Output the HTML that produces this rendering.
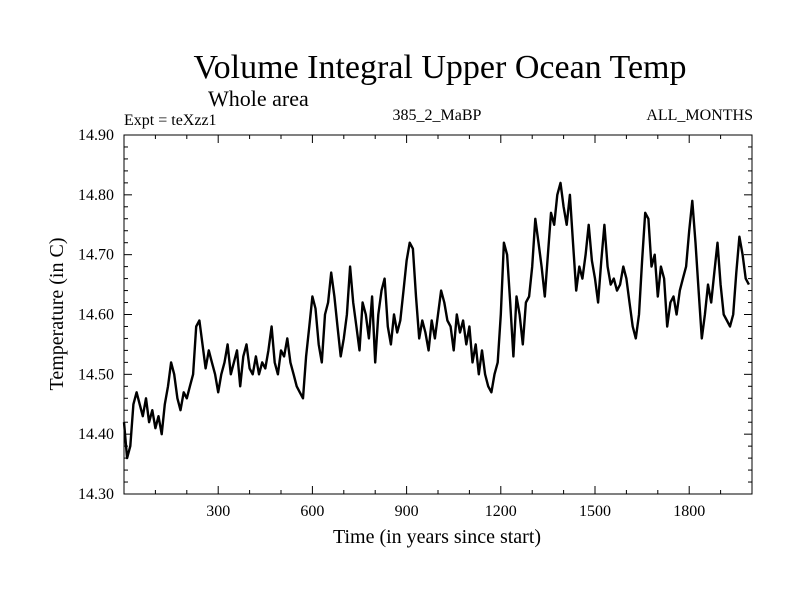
<!DOCTYPE html>
<html><head><meta charset="utf-8"><style>
body{margin:0;background:#fff}
svg text{font-family:"Liberation Serif",serif;fill:#000}
</style></head><body>
<svg id="chart" width="800" height="600">
<text x="440" y="78" font-size="34" text-anchor="middle">Volume Integral Upper Ocean Temp</text>
<text x="208" y="106" font-size="22">Whole area</text>
<text x="124" y="125" font-size="16">Expt = teXzz1</text>
<text x="437" y="120" font-size="16" text-anchor="middle">385_2_MaBP</text>
<text x="753" y="120" font-size="16" text-anchor="end">ALL_MONTHS</text>
<text x="437" y="543" font-size="20" text-anchor="middle">Time (in years since start)</text>
<text transform="translate(63,314) rotate(-90)" font-size="20" text-anchor="middle">Temperature (in C)</text>
<g id="axes"></g>
<path id="line" fill="none" stroke="#000" stroke-width="2.4" stroke-linejoin="round"></path>
<rect x="124" y="135" width="628" height="359" fill="none" stroke="#000" stroke-width="1"></rect>
</svg>
<script>
const years=[];for(let i=0;i<200;i++)years.push(i*10);
const temps=[14.42,14.36,14.38,14.45,14.47,14.45,14.43,14.46,14.42,14.44,14.41,14.43,14.40,14.45,14.48,14.52,14.50,14.46,14.44,14.47,
14.46,14.48,14.50,14.58,14.59,14.55,14.51,14.54,14.52,14.50,14.47,14.50,14.52,14.55,14.50,14.52,14.54,14.48,14.53,14.55,
14.51,14.50,14.53,14.50,14.52,14.51,14.54,14.58,14.52,14.50,14.54,14.53,14.56,14.52,14.50,14.48,14.47,14.46,14.53,14.58,
14.63,14.61,14.55,14.52,14.60,14.62,14.67,14.63,14.58,14.53,14.56,14.60,14.68,14.62,14.58,14.54,14.62,14.60,14.56,14.63,
14.52,14.60,14.64,14.66,14.58,14.55,14.60,14.57,14.59,14.64,14.69,14.72,14.71,14.63,14.56,14.59,14.57,14.54,14.59,14.56,
14.60,14.64,14.62,14.59,14.58,14.54,14.60,14.57,14.59,14.55,14.58,14.52,14.55,14.50,14.54,14.50,14.48,14.47,14.50,14.52,
14.60,14.72,14.70,14.62,14.53,14.63,14.60,14.55,14.62,14.63,14.68,14.76,14.72,14.68,14.63,14.70,14.77,14.75,14.80,14.82,
14.78,14.75,14.80,14.72,14.64,14.68,14.66,14.70,14.75,14.69,14.66,14.62,14.69,14.75,14.68,14.65,14.66,14.64,14.65,14.68,
14.66,14.62,14.58,14.56,14.60,14.69,14.77,14.76,14.68,14.70,14.63,14.68,14.66,14.58,14.62,14.63,14.60,14.64,14.66,14.68,
14.74,14.79,14.72,14.64,14.56,14.60,14.65,14.62,14.67,14.72,14.65,14.60,14.59,14.58,14.60,14.67,14.73,14.70,14.66,14.65];
const xTicks=[300,600,900,1200,1500,1800];
const yTicks=[14.30,14.40,14.50,14.60,14.70,14.80,14.90];
const X0=124,X1=752,Y0=494,Y1=135,XMAX=2000,YMIN=14.3,YMAX=14.9;
const sx=v=>X0+(v/XMAX)*(X1-X0);
const sy=v=>Y0-(v-YMIN)/(YMAX-YMIN)*(Y0-Y1);
const NS='http://www.w3.org/2000/svg';
const g=document.getElementById('axes');
function ln(x1,y1,x2,y2,name){const l=document.createElementNS(NS,'line');l.setAttribute('x1',x1);l.setAttribute('y1',y1);l.setAttribute('x2',x2);l.setAttribute('y2',y2);l.setAttribute('stroke','#000');


g.appendChild(l);}
for(let v=100;v<XMAX;v+=100){const maj=v%300===0,len=maj?8:4;ln(sx(v),Y0,sx(v),Y0-len,'x-tick');ln(sx(v),Y1,sx(v),Y1+len,'x-tick-top');}
for(let k=1;k<30;k++){const v=YMIN+k*0.02;const maj=k%5===0,len=maj?8:4;ln(X0,sy(v),X0+len,sy(v),'y-tick');ln(X1,sy(v),X1-len,sy(v),'y-tick-right');}
xTicks.forEach(v=>{const t=document.createElementNS(NS,'text');t.setAttribute('x',sx(v));t.setAttribute('y',516);t.setAttribute('font-size','16');t.setAttribute('text-anchor','middle');t.textContent=v;


g.appendChild(t);});
yTicks.forEach(v=>{const t=document.createElementNS(NS,'text');t.setAttribute('x',114);t.setAttribute('y',sy(v)+5);t.setAttribute('font-size','16');t.setAttribute('text-anchor','end');t.textContent=v.toFixed(2);


g.appendChild(t);});
document.getElementById('line').setAttribute('d',temps.map((v,i)=>(i?'L':'M')+sx(years[i]).toFixed(1)+' '+sy(v).toFixed(1)).join(''));
</script>
</body></html>
